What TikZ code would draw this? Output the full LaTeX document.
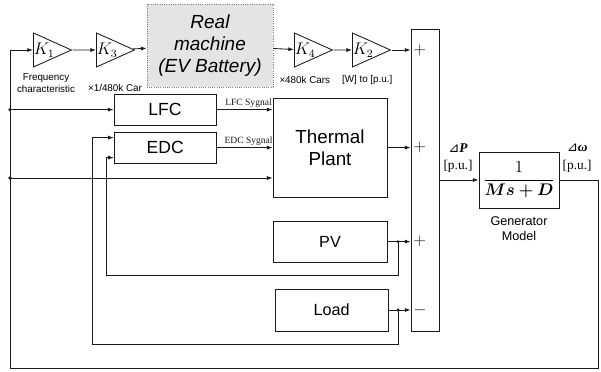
\documentclass[tikz,border=0pt]{standalone}
\usepackage{fontspec}
\usepackage{amsmath}
\usepackage{bm}
\setmainfont{Liberation Serif}
\setsansfont{Liberation Sans}
\newfontfamily\symfont{DejaVu Sans}
\usetikzlibrary{shapes.geometric, arrows.meta, positioning, calc}
\definecolor{dark}{RGB}{25, 25, 25}
\definecolor{shade}{RGB}{228, 228, 228}
\tikzset{
    box/.style={rectangle, draw=dark, line width=0.6pt, align=center, font=\sffamily\fontsize{12.5}{16}\selectfont, inner sep=2pt},
    gain/.style={isosceles triangle, isosceles triangle stretches, draw=dark, line width=0.6pt, minimum width=0.85cm, minimum height=0.95cm, inner sep=0pt, anchor=west, font=\fontsize{12}{12}\selectfont},
    machine/.style={box, draw=gray, densely dotted, fill=shade, font=\sffamily\itshape\fontsize{13.5}{15.6}\selectfont, minimum width=3.15cm, minimum height=2.08cm},
    note/.style={align=center, font=\sffamily\fontsize{7}{8}\selectfont, inner sep=0pt},
    sig/.style={font=\fontsize{6.8}{7}\selectfont, inner sep=1pt, above},
    unit/.style={font=\fontsize{9.5}{10}\selectfont, inner sep=0pt},
    sign/.style={anchor=west, inner sep=0pt, text=dark, font=\fontsize{12.5}{12.5}\selectfont},
    arr/.style={-{Latex[length=1.4mm, width=1mm]}, line width=0.6pt, dark},
    dot/.style={fill=dark}
}

\begin{document}
\begin{tikzpicture}
    \useasboundingbox (0,0) rectangle (15.025,9.3);
    % forward chain of the EV battery
    \node[gain] (k1) at (0.825,8.05) {$K_1$\hspace{2mm}};
    \node[gain] (k3) at (2.4,8.05) {$K_3$\hspace{2mm}};
    \node[machine] (ev) at (5.25,8.16) {Real\\machine\\(EV Battery)};
    \node[gain] (k4) at (7.35,8.05) {$K_4$\hspace{2mm}};
    \node[gain] (k2) at (8.8,8.05) {$K_2$\hspace{2mm}};
    \node[note] (freqtxt) at (1.15,7.22) {Frequency\\characteristic};
    \node[note] (cartxt) at (2.875,7.1) {×1/480k Car};
    \node[note] (carstxt) at (7.62,7.3) {×480k Cars};
    \node[note] (putxt) at (9.18,7.3) {[W] to [p.u.]};
    % controllers and plants
    \node[box, minimum width=2.55cm, minimum height=0.78cm] (lfc) at (4.125,6.56) {LFC};
    \node[box, minimum width=2.55cm, minimum height=0.78cm] (edc) at (4.13,5.61) {EDC};
    \node[box, minimum width=2.85cm, minimum height=2.475cm, font=\sffamily\fontsize{13.4}{16}\selectfont] (thermal) at (8.25,5.61) {Thermal\\Plant};
    \node[box, minimum width=2.85cm, minimum height=1.03cm, font=\sffamily\fontsize{11.5}{14}\selectfont] (pv) at (8.25,3.26) {PV};
    \node[box, minimum width=2.83cm, minimum height=1.05cm, font=\sffamily\fontsize{11.5}{14}\selectfont] (load) at (8.29,1.55) {Load};
    % summing bar and generator
    \node[box, minimum width=0.7cm, minimum height=7.55cm] (sum) at (10.625,4.8) {};
    \node[box, minimum width=2cm, minimum height=1.4cm, font=\large] (gen) at (12.975,4.8) {$\dfrac{1}{\bm{Ms+D}}$};
    \node[note, font=\sffamily\fontsize{9}{10.7}\selectfont] (gentxt) at (12.975,3.575) {Generator\\Model};
    \node[unit] (dp) at (11.45,5.6) {{\symfont ⊿}\textbf{\textit{P}}};
    \node[unit] (dpu) at (11.45,5.15) {[p.u.]};
    \node[unit] (dw) at (14.43,5.6) {{\symfont ⊿}\textbf{\textit{ω}}};
    \node[unit] (dwu) at (14.43,5.15) {[p.u.]};
    \node[sign] (s1) at ($(sum.west |- k2)+(0.06,0)$) {$+$};
    \node[sign] (s2) at ($(sum.west |- thermal)+(0.06,0)$) {$+$};
    \node[sign] (s3) at ($(sum.west |- pv)+(0.06,0)$) {$+$};
    \node[sign] (s4) at ($(sum.west |- load)+(0.06,0)$) {$-$};
    % named corners of the loops
    \coordinate (fbr) at (14.95,0.1); \coordinate (fbl) at (0.25,0.1);
    \coordinate (tapa) at (fbl |- lfc); \coordinate (tapb) at (0.25,4.85);
    \coordinate (pvj) at (9.95,3.26); \coordinate (loadj) at (pvj |- load);
    \coordinate (pvloop) at (2.65,2.425); \coordinate (loadloop) at (2.3,0.7);
    % connectors
    \draw[arr] (k1)--(k3); \draw[arr] (k3)--(ev); \draw[arr] (ev)--(k4); \draw[arr] (k4)--(k2); \draw[arr] (k2)--(k2 -| sum.west);
    \draw[arr] (lfc)--(lfc -| thermal.west) node[sig, midway, xshift=1mm] (lfcsig) {LFC Sygnal};
    \draw[arr] (edc)--(edc -| thermal.west) node[sig, midway, xshift=1mm] (edcsig) {EDC Sygnal};
    \draw[arr] (thermal)--(thermal -| sum.west); \draw[arr] (pv)--(pv -| sum.west); \draw[arr] (load)--(load -| sum.west);
    \draw[arr] (sum)--(gen);
    \draw[arr] (gen) -| (fbr) -- (fbl) |- (k1);
    \draw[arr] (tapa)--(lfc); \draw[arr] (tapb)--(tapb -| thermal.west);
    \draw[arr] (pvj) |- (pvloop) |- ([yshift=-0.25cm]edc.west);
    \draw[arr] (loadj) |- (loadloop) |- ([yshift=0.25cm]edc.west);
    \fill[dot] (tapa) circle (1.3pt); \fill[dot] (tapb) circle (1.3pt);
    \fill[dot] (pvj) circle (1.1pt); \fill[dot] (loadj) circle (1.1pt);
\end{tikzpicture}
\end{document}
